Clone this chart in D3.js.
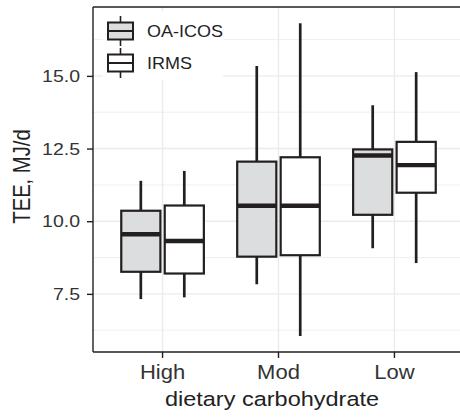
<!DOCTYPE html>
<html>
<head>
<meta charset="utf-8">
<script src="https://cdn.jsdelivr.net/npm/d3@7"></script>
<style>
	body { margin: 0; background: #fff; }
	text { font-family: "Liberation Sans", Arial, sans-serif; }
</style>
</head>
<body>
<div id="chart"></div>
<script>
const categories = ["High", "Mod", "Low"];
const methods = ["OA-ICOS", "IRMS"];

// box stats, one value per category
const oaLow = [7.32, 7.83, 9.07];
const oaQ1 = [8.26, 8.78, 10.22];
const oaMed = [9.55, 10.53, 12.26];
const oaQ3 = [10.36, 12.05, 12.47];
const oaHigh = [11.39, 15.34, 13.99];

const irLow = [7.38, 6.05, 8.56];
const irQ1 = [8.2, 8.83, 10.98];
const irMed = [9.32, 10.53, 11.93];
const irQ3 = [10.54, 12.2, 12.73];
const irHigh = [11.73, 16.81, 15.13];

const yTicks = [7.5, 10.0, 12.5, 15.0];
const yMinor = [6.25, 8.75, 11.25, 13.75, 16.25];

const width = 460, height = 417;
const panelLeft = 93, panelRight = 464, panelTop = 7, panelBottom = 352;
const ink = "#231f20";
const fills = { "OA-ICOS": "#dcdddf", IRMS: "#ffffff" };
// the picture looks a little squeezed vertically, so glyphs get flattened too
const squeeze = 0.88;

let svg = d3.select("#chart").append("svg").attr("width", width).attr("height", height);

let x = d3.scaleBand().domain(categories).range([panelLeft, panelRight]).paddingInner(0).paddingOuter(0.1);
let y = d3.scaleLinear().domain([5.5, 17.37]).range([panelBottom, panelTop]);

let step = x.step();
let x1 = d3.scaleBand().domain(methods).range([-0.375 * step, 0.375 * step]).paddingInner(0.1).paddingOuter(0.05);

// grid
let grid = svg.append("g");
grid.selectAll(".minor")
	.data(yMinor)
	.enter()
	.append("line")
	.attr("x1", panelLeft).attr("x2", panelRight)
	.attr("y1", (d) => y(d)).attr("y2", (d) => y(d))
	.attr("stroke", "#ebebeb").attr("stroke-width", 0.8);
grid.selectAll(".major")
	.data(yTicks)
	.enter()
	.append("line")
	.attr("x1", panelLeft).attr("x2", panelRight)
	.attr("y1", (d) => y(d)).attr("y2", (d) => y(d))
	.attr("stroke", "#ebebeb").attr("stroke-width", 1.4);
grid.selectAll(".vmajor")
	.data(categories)
	.enter()
	.append("line")
	.attr("x1", (d) => x(d) + step / 2).attr("x2", (d) => x(d) + step / 2)
	.attr("y1", panelTop).attr("y2", panelBottom)
	.attr("stroke", "#ebebeb").attr("stroke-width", 1.4);

// assemble rows
let rows = [];
categories.forEach((c, i) => {
	rows.push({ cat: c, method: "OA-ICOS", low: oaLow[i], q1: oaQ1[i], med: oaMed[i], q3: oaQ3[i], high: oaHigh[i] });
	rows.push({ cat: c, method: "IRMS", low: irLow[i], q1: irQ1[i], med: irMed[i], q3: irQ3[i], high: irHigh[i] });
});

let boxes = svg.append("g")
	.selectAll("g")
	.data(rows)
	.enter()
	.append("g")
	.attr("transform", (d) => `translate(${x(d.cat) + step / 2 + x1(d.method)},0)`);

let bw = x1.bandwidth();

boxes.append("line")
	.attr("x1", bw / 2).attr("x2", bw / 2)
	.attr("y1", (d) => y(d.high)).attr("y2", (d) => y(d.q3))
	.attr("stroke", ink).attr("stroke-width", 2.7);
boxes.append("line")
	.attr("x1", bw / 2).attr("x2", bw / 2)
	.attr("y1", (d) => y(d.q1)).attr("y2", (d) => y(d.low))
	.attr("stroke", ink).attr("stroke-width", 2.7);
boxes.append("rect")
	.attr("x", 0).attr("width", bw)
	.attr("y", (d) => y(d.q3)).attr("height", (d) => y(d.q1) - y(d.q3))
	.attr("fill", (d) => fills[d.method])
	.attr("stroke", ink).attr("stroke-width", 2.2);
boxes.append("line")
	.attr("x1", 0).attr("x2", bw)
	.attr("y1", (d) => y(d.med)).attr("y2", (d) => y(d.med))
	.attr("stroke", ink).attr("stroke-width", 4.4);

// panel border + axes
svg.append("line").attr("x1", panelLeft).attr("x2", panelRight).attr("y1", panelTop).attr("y2", panelTop).attr("stroke", ink).attr("stroke-width", 1.4);

let yAxis = d3.axisLeft(y).tickValues(yTicks).tickFormat(d3.format(".1f")).tickSize(6).tickPadding(7);
let gy = svg.append("g").attr("transform", `translate(${panelLeft},0)`).call(yAxis);
let xAxis = d3.axisBottom(x).tickSize(6).tickPadding(7);
let gx = svg.append("g").attr("transform", `translate(0,${panelBottom})`).call(xAxis);

[gx, gy].forEach((g) => {
	g.select(".domain").attr("stroke", ink).attr("stroke-width", 1.4);
	g.selectAll(".tick line").attr("stroke", ink).attr("stroke-width", 1.4);
	g.selectAll(".tick text")
		.attr("fill", "#333")
		.style("font-family", "Liberation Sans, Arial, sans-serif")
		.attr("transform", `scale(1,${squeeze})`);
});
gy.selectAll(".tick text").style("font-size", "19.5px");
gx.selectAll(".tick text").style("font-size", "22px").attr("y", 13 / squeeze);
gy.select(".domain").attr("d", `M0,${panelTop}V${panelBottom}`);
gx.select(".domain").attr("d", `M${panelLeft},0H${panelRight}`);

// titles
svg.append("text")
	.attr("transform", `translate(272,406) scale(1,${squeeze})`)
	.attr("text-anchor", "middle")
	.attr("fill", "#222")
	.style("font-size", "23.5px")
	.text("dietary carbohydrate");
svg.append("text")
	.attr("transform", `translate(30,${(panelTop + panelBottom) / 2 - 3}) rotate(-90) scale(${squeeze},1)`)
	.attr("text-anchor", "middle")
	.attr("fill", "#222")
	.style("font-size", "23px")
	.text("TEE, MJ/d");

// legend
let legend = svg.append("g").attr("id", "legend");
legend.append("rect").attr("x", 103).attr("y", 11).attr("width", 120).attr("height", 69).attr("fill", "#fff");
let keys = legend.selectAll(".key")
	.data(methods)
	.enter()
	.append("g")
	.attr("transform", (d, i) => `translate(108,${31 + i * 32})`);
keys.append("line").attr("x1", 12.5).attr("x2", 12.5).attr("y1", -15).attr("y2", 15).attr("stroke", ink).attr("stroke-width", 1.6);
keys.append("rect").attr("x", 0).attr("y", -8.5).attr("width", 25).attr("height", 17)
	.attr("fill", (d) => fills[d]).attr("stroke", ink).attr("stroke-width", 2);
keys.append("line").attr("x1", 0).attr("x2", 25).attr("y1", 0).attr("y2", 0).attr("stroke", ink).attr("stroke-width", 2);
keys.append("text")
	.attr("transform", `translate(39,6) scale(1,${squeeze})`)
	.attr("fill", "#222")
	.style("font-size", "18px")
	.text((d) => d);
</script>
</body>
</html>
